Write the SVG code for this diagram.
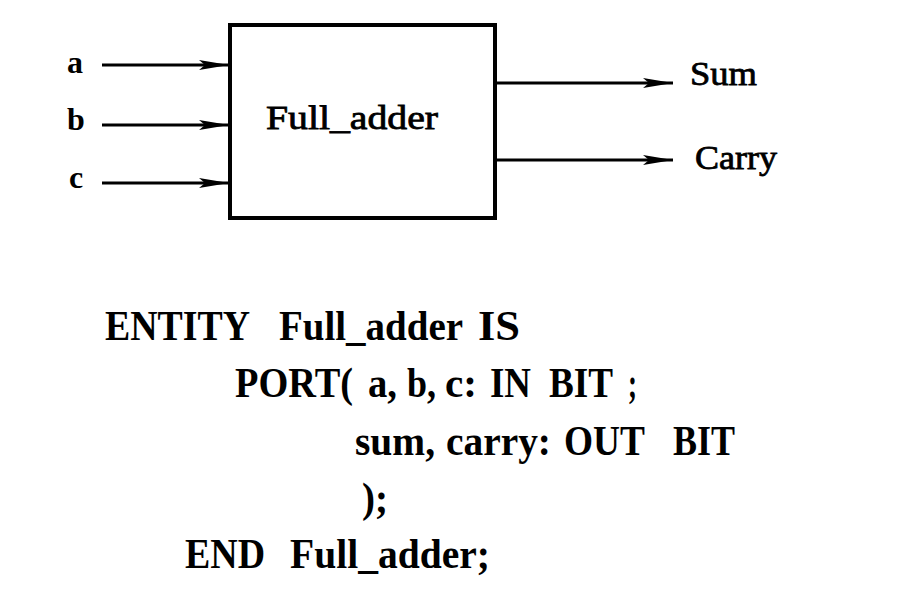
<svg xmlns="http://www.w3.org/2000/svg" width="906" height="600" viewBox="0 0 906 600">
<defs>
<marker id="arr" viewBox="0 0 30 10" refX="30" refY="5" markerWidth="30" markerHeight="10" markerUnits="userSpaceOnUse" orient="auto">
<path d="M0,0 L30,5 L0,10 L6,5 Z" fill="#000"/>
</marker>
<style>
.wire{stroke:#000;stroke-width:3;fill:none}
.lbl{font-family:"Liberation Serif","Times New Roman",serif;fill:#000}
.pin{font-size:32px;font-weight:bold}
.top{font-size:34px;stroke:#000;stroke-width:0.8}
.code{font-family:"Liberation Serif","Times New Roman",serif;font-size:42px;font-weight:bold;fill:#000}
</style>
</defs>
<rect width="906" height="600" fill="#fff"/>
<g id="full_adder">
<rect x="230" y="25" width="265" height="193" fill="#fff" stroke="#000" stroke-width="4"/>
<text class="lbl top" x="266" y="129" textLength="172" lengthAdjust="spacingAndGlyphs">Full_adder</text>
</g>
<g id="in_a"><text class="lbl pin" x="67" y="73">a</text></g>
<g id="in_b"><text class="lbl pin" x="67" y="130">b</text></g>
<g id="in_c"><text class="lbl pin" x="69" y="188">c</text></g>
<g id="out_sum"><text class="lbl top" x="690" y="85" textLength="67" lengthAdjust="spacingAndGlyphs">Sum</text></g>
<g id="out_carry"><text class="lbl top" x="695" y="169" textLength="82" lengthAdjust="spacingAndGlyphs">Carry</text></g>
<g id="connectors">
<line class="wire" x1="102" y1="65" x2="229" y2="65" marker-end="url(#arr)"/>
<line class="wire" x1="102" y1="125" x2="229" y2="125" marker-end="url(#arr)"/>
<line class="wire" x1="102" y1="183" x2="229" y2="183" marker-end="url(#arr)"/>
<line class="wire" x1="496" y1="83" x2="673" y2="83" marker-end="url(#arr)"/>
<line class="wire" x1="496" y1="160" x2="673" y2="160" marker-end="url(#arr)"/>
</g>
<g id="code">
<text class="code" y="340"><tspan x="105" textLength="145" lengthAdjust="spacingAndGlyphs">ENTITY</tspan><tspan x="279" textLength="184" lengthAdjust="spacingAndGlyphs">Full_adder</tspan><tspan x="478" textLength="42" lengthAdjust="spacingAndGlyphs">IS</tspan></text>
<text class="code" y="397"><tspan x="235" textLength="118" lengthAdjust="spacingAndGlyphs">PORT(</tspan><tspan x="368" textLength="29" lengthAdjust="spacingAndGlyphs">a,</tspan><tspan x="407" textLength="29" lengthAdjust="spacingAndGlyphs">b,</tspan><tspan x="445" textLength="32" lengthAdjust="spacingAndGlyphs">c:</tspan><tspan x="490" textLength="41" lengthAdjust="spacingAndGlyphs">IN</tspan><tspan x="549" textLength="64" lengthAdjust="spacingAndGlyphs">BIT</tspan><tspan x="628" textLength="9" lengthAdjust="spacingAndGlyphs">;</tspan></text>
<text class="code" y="455"><tspan x="355" textLength="80" lengthAdjust="spacingAndGlyphs">sum,</tspan><tspan x="446" textLength="105" lengthAdjust="spacingAndGlyphs">carry:</tspan><tspan x="564" textLength="81" lengthAdjust="spacingAndGlyphs">OUT</tspan><tspan x="673" textLength="62" lengthAdjust="spacingAndGlyphs">BIT</tspan></text>
<text class="code" x="362" y="512" textLength="26" lengthAdjust="spacingAndGlyphs">);</text>
<text class="code" y="568"><tspan x="185" textLength="80" lengthAdjust="spacingAndGlyphs">END</tspan><tspan x="290" textLength="200" lengthAdjust="spacingAndGlyphs">Full_adder;</tspan></text>
</g>
</svg>
